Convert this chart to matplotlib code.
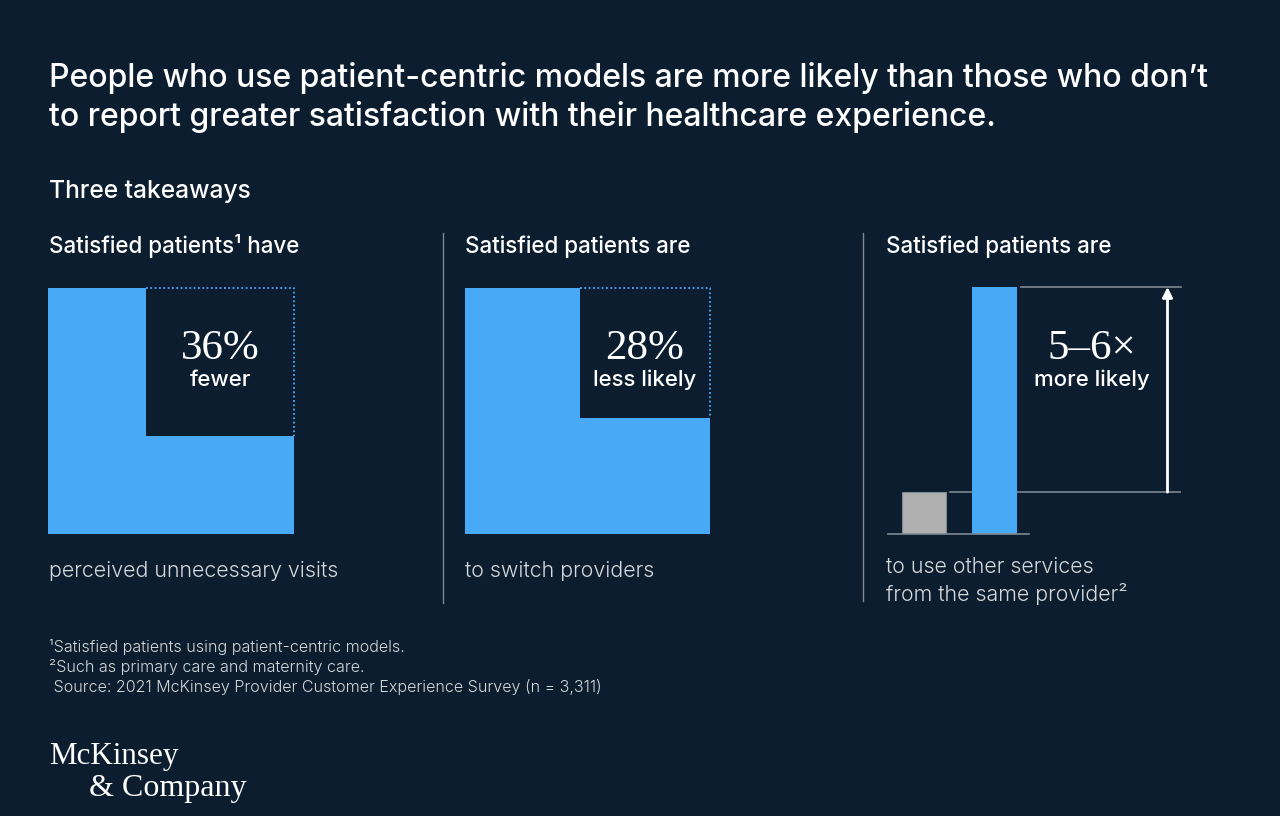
import matplotlib
matplotlib.use("Agg")
import matplotlib.pyplot as plt
import numpy as np

BG = "#0b1d2e"
BLUE = "#48a9f7"
GREY = "#b0b0b0"
RULE = "#7d8893"
WHITE = "#ffffff"
SOFT = "#d5d9dc"

title_lines = ["People who use patient-centric models are more likely than those who don’t",
               "to report greater satisfaction with their healthcare experience."]
subtitle = "Three takeaways"
panel_heads = ["Satisfied patients¹ have", "Satisfied patients are", "Satisfied patients are"]
big_labels = ["36%", "28%", "5–6×"]
small_labels = ["fewer", "less likely", "more likely"]
cut_shares = [36, 28]   # percent removed from the square
bar_names = ["others", "satisfied"]
bar_values = [1.0, 5.9]
footnotes = ["¹Satisfied patients using patient-centric models.",
             "²Such as primary care and maternity care.",
             " Source: 2021 McKinsey Provider Customer Experience Survey (n = 3,311)"]

W, H = 1280, 816
fig = plt.figure(figsize=(W / 100, H / 100), dpi=100, facecolor=BG)


def px_axes(x0, y0, x1, y1):
    # axes placed by pixel box, y measured from the top of the image
    ax = fig.add_axes([x0 / W, 1 - y1 / H, (x1 - x0) / W, (y1 - y0) / H])
    ax.axis("off")
    return ax


bg = px_axes(0, 0, W, H)
bg.set_xlim(0, W)
bg.set_ylim(H, 0)


def txt(x, y, s, px, ha="left", color=WHITE, weight="normal", family="Inter", va="baseline"):
    return bg.text(x, y, s, fontsize=px * 0.72, ha=ha, va=va, color=color,
                   fontweight=weight, family=family)


# header
txt(49, 87, title_lines[0], 32, weight=500)
txt(49, 126, title_lines[1], 32, weight=500)
txt(49, 198, subtitle, 24.6, weight=500)

# panel headings
for x, s in zip([49, 465, 886], panel_heads):
    txt(x, 253, s, 22.4, weight=500)

# separators
bg.plot([443, 443], [233, 603], color=RULE, lw=1)
bg.plot([863, 863], [233, 601], color=RULE, lw=1)


# the two square panels, cut-out sized so its area equals the share
def square_panel(box, share):
    ax = px_axes(*box)
    ax.set_xlim(0, 1)
    ax.set_ylim(0, 1)
    side = np.sqrt(share / 100)
    ax.bar(0, 1, width=1 - side, align="edge", color=BLUE, lw=0)
    ax.bar(1 - side, 1 - side, width=side, align="edge", color=BLUE, lw=0)
    ax.plot([1 - side, 1, 1], [1, 1, 1 - side], color=BLUE, lw=1.3, ls=(0, (1, 1.4)),
            clip_on=False)


square_panel((48, 288, 294, 534), cut_shares[0])
square_panel((465, 288, 710, 534), cut_shares[1])

# third panel, bars on a value scale
ax3 = px_axes(888, 287, 1181, 534)
ax3.set_xlim(888, 1181)
ax3.set_ylim(0, bar_values[1])
ax3.plot([950, 1181], [bar_values[0], bar_values[0]], color=RULE, lw=1.2)
ax3.plot([1021, 1181], [bar_values[1], bar_values[1]], color=RULE, lw=1.2, clip_on=False)
ax3.bar(924, bar_values[0], width=44, color=GREY, edgecolor=RULE, lw=0.8, zorder=3)
ax3.bar(994.5, bar_values[1], width=45, color=BLUE, lw=0, zorder=3)
ax3.plot([888, 1029], [0, 0], color=RULE, lw=1.2, clip_on=False, zorder=4)
ax3.annotate("", xy=(1167.5, bar_values[1]), xytext=(1167.5, bar_values[0]),
             arrowprops=dict(arrowstyle="-|>,head_width=0.3,head_length=0.6", color=WHITE,
                             lw=2, shrinkA=0, shrinkB=0))

# callouts
for x, big, small in zip([220, 645, 1092], big_labels, small_labels):
    txt(x, 359, big, 43, ha="center", family="Liberation Serif", weight="bold" if False else "normal")
    txt(x, 386, small, 22.2, ha="center", weight=500)

# captions
txt(49, 577, "perceived unnecessary visits", 21.4, color=SOFT, weight=300)
txt(465, 577, "to switch providers", 21.4, color=SOFT, weight=300)
txt(886, 573, "to use other services", 21.4, color=SOFT, weight=300)
txt(886, 601, "from the same provider²", 21.4, color=SOFT, weight=300)

# footnotes
for y, s in zip([652, 672, 692], footnotes):
    txt(49, y, s, 16.1, color=SOFT, weight=300)

# logo
txt(49, 764, "McKinsey", 31.2, family="Liberation Serif")
txt(89, 796, "& Company", 32, family="Liberation Serif")

fig.savefig("out.png", dpi=100, facecolor=BG)
